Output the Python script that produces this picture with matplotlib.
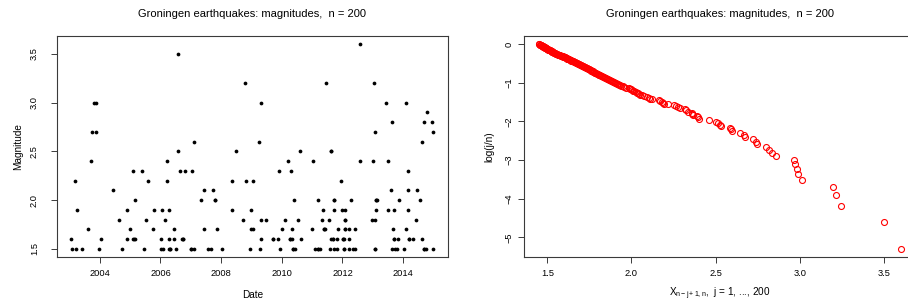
import matplotlib
matplotlib.use('Agg')
import matplotlib.pyplot as plt
import numpy as np

plt.rcParams['font.family'] = ['Liberation Sans', 'DejaVu Sans']
plt.rcParams['mathtext.fontset'] = 'custom'
plt.rcParams['mathtext.rm'] = 'Liberation Sans'
plt.rcParams['mathtext.it'] = 'Liberation Sans'

# event dates (decimal years) and magnitudes
dates = [2003.06, 2003.08, 2003.17, 2003.23, 2003.26, 2003.42, 2003.60, 2003.72, 2003.73, 2003.81,
         2003.86, 2003.88, 2003.99, 2004.03, 2004.44, 2004.64, 2004.73, 2004.89, 2004.89, 2005.01,
         2005.10, 2005.11, 2005.15, 2005.17, 2005.40, 2005.46, 2005.54, 2005.58, 2005.75, 2005.80,
         2006.03, 2006.04, 2006.03, 2006.10, 2006.16, 2006.21, 2006.21, 2006.27, 2006.27, 2006.27,
         2006.30, 2006.46, 2006.45, 2006.52, 2006.59, 2006.58, 2006.65, 2006.71, 2006.75, 2006.80,
         2007.00, 2007.05, 2007.10, 2007.12, 2007.34, 2007.42, 2007.42, 2007.58, 2007.68, 2007.74,
         2007.80, 2007.86, 2008.04, 2008.35, 2008.36, 2008.50, 2008.72, 2008.80, 2008.83, 2008.94,
         2008.97, 2009.00, 2009.05, 2009.06,
         2009.28, 2009.26, 2009.32, 2009.32, 2009.32, 2009.48, 2009.71, 2009.86, 2009.90, 2009.94,
         2010.00, 2010.11, 2010.22, 2010.28, 2010.33, 2010.31, 2010.33, 2010.38, 2010.44, 2010.41,
         2010.53, 2010.59, 2010.63, 2010.99, 2011.02, 2011.08, 2011.19, 2011.21, 2011.25,
         2011.32, 2011.36, 2011.38, 2011.44, 2011.45, 2011.55, 2011.60, 2011.62, 2011.68, 2011.63,
         2011.71, 2011.73, 2011.73, 2011.81, 2011.83, 2011.87, 2011.96, 2011.98, 2012.01, 2012.04,
         2012.05, 2012.07, 2012.08, 2012.09, 2012.20, 2012.21, 2012.23, 2012.28, 2012.34, 2012.41,
         2012.43, 2012.58, 2012.58, 2012.99, 2013.00, 2013.05, 2013.06, 2013.06, 2013.07, 2013.09,
         2013.10, 2013.15,
         2013.44, 2013.51, 2013.51, 2013.59, 2013.63, 2013.63, 2013.68, 2013.69, 2013.71, 2013.72,
         2013.80, 2013.84, 2013.87, 2014.03, 2014.08, 2014.09, 2014.16, 2014.16, 2014.17, 2014.18,
         2014.33, 2014.41, 2014.46, 2014.56, 2014.62, 2014.63, 2014.68, 2014.70, 2014.75, 2014.80,
         2014.96, 2014.97, 2014.99,
         # events hidden under others
         2006.30, 2013.06, 2007.00, 2010.38, 2011.19, 2012.04, 2014.68,
         2005.12, 2006.74, 2010.28, 2011.68, 2012.01, 2013.69, 2014.18, 2009.71,
         2011.38, 2012.08, 2012.07, 2013.09, 2011.71, 2007.80, 2011.63]

mags = [1.6, 1.5, 2.2, 1.5, 1.9, 1.5, 1.7, 2.4, 2.7, 3.0, 3.0, 2.7, 1.5, 1.6, 2.1, 1.8, 1.5,
        1.9, 1.6, 1.7, 2.3, 1.6, 1.6, 2.0, 2.3, 1.5, 1.8, 2.2, 1.7, 1.9, 1.6, 1.9, 1.5, 1.5, 1.8,
        2.4, 2.2, 1.9, 1.6, 1.5, 1.5, 1.7, 1.6, 1.5, 3.5, 2.5, 2.3, 1.6, 1.6, 2.3,
        1.5, 2.3, 1.5, 2.6, 2.0, 2.1, 1.7, 1.5, 1.5, 2.1, 2.0, 1.7, 1.5, 2.2, 1.9, 2.5, 1.8, 3.2,
        2.2, 1.5, 1.7, 1.9, 1.7, 2.2,
        1.5, 2.6, 1.6, 1.8, 3.0, 1.8, 1.6, 1.6, 2.3, 1.5, 1.7, 1.8, 2.4, 1.6, 1.6, 2.3, 1.7, 1.5,
        1.5, 2.0, 1.8, 2.5, 1.6, 1.7, 2.4, 1.5, 1.5, 2.0, 1.5,
        1.8, 1.9, 1.7, 1.7, 3.2, 1.8, 1.5, 1.6, 1.6, 2.5, 2.0, 1.5, 1.9, 1.5, 1.6, 1.7, 2.2, 1.9,
        1.6, 1.5, 1.6, 1.8, 1.7, 1.9, 1.5, 1.6, 1.7, 2.0, 1.5, 1.5, 1.7, 3.6, 2.4, 1.8, 2.4, 3.2,
        2.7, 1.5, 1.8, 2.0, 1.9, 2.0,
        3.0, 2.4, 1.9, 2.1, 2.8, 1.5, 1.7, 1.6, 1.9, 1.5, 1.5, 1.6, 2.0, 1.5, 3.0, 1.7, 2.3, 1.9,
        2.1, 1.6, 1.6, 1.8, 2.1, 2.0, 2.6, 1.6, 1.5, 2.8, 1.5, 2.9, 2.8, 2.7, 1.5,
        1.5, 1.5, 1.5, 1.5, 1.5, 1.5, 1.5,
        1.6, 1.6, 1.6, 1.6, 1.6, 1.6, 1.6, 1.6,
        1.7, 1.7, 1.8, 2.0, 2.0, 2.0, 2.5]

# ordered (tie-broken) magnitudes X_{1,n} <= ... <= X_{n,n}
ordered = [1.450, 1.452, 1.455, 1.457, 1.460, 1.462, 1.465, 1.467, 1.469, 1.471,
           1.473, 1.475, 1.477, 1.479, 1.481, 1.483, 1.485, 1.487, 1.489, 1.491,
           1.493, 1.495, 1.497, 1.499, 1.501, 1.503, 1.506, 1.509, 1.512, 1.515,
           1.518, 1.520, 1.522, 1.524, 1.526, 1.528, 1.530, 1.532, 1.535, 1.538,
           1.541, 1.544, 1.547, 1.550, 1.553, 1.556, 1.560, 1.564, 1.568, 1.572,
           1.576, 1.580, 1.584, 1.588, 1.592, 1.596, 1.600, 1.604, 1.608, 1.611,
           1.614, 1.617, 1.620, 1.623, 1.626, 1.629, 1.632, 1.635, 1.638, 1.642,
           1.646, 1.650, 1.654, 1.658, 1.662, 1.666, 1.670, 1.674, 1.678, 1.682,
           1.686, 1.690, 1.694, 1.698, 1.702, 1.706, 1.710, 1.714, 1.718, 1.722,
           1.726, 1.730, 1.734, 1.738, 1.742, 1.746, 1.750, 1.754, 1.758, 1.762,
           1.766, 1.770, 1.774, 1.778, 1.782, 1.786, 1.790, 1.795, 1.800, 1.805,
           1.810, 1.815, 1.820, 1.826, 1.832, 1.838, 1.844, 1.850, 1.856, 1.862,
           1.868, 1.874, 1.880, 1.886, 1.892, 1.898, 1.904, 1.910, 1.916, 1.922,
           1.928, 1.934, 1.940, 1.948, 1.956, 1.965,
           1.985, 1.990, 1.995, 2.003, 2.010, 2.015, 2.025, 2.033, 2.040, 2.045,
           2.052, 2.060, 2.072, 2.090, 2.103, 2.110, 2.121, 2.165, 2.170, 2.179,
           2.185, 2.192, 2.218, 2.254, 2.265, 2.277, 2.287, 2.317, 2.327, 2.337,
           2.357, 2.362, 2.366, 2.390, 2.398, 2.402, 2.460, 2.505, 2.515, 2.525,
           2.535, 2.584, 2.594, 2.600, 2.645, 2.669, 2.677, 2.721, 2.742, 2.748,
           2.798, 2.818, 2.833, 2.861, 2.964, 2.972, 2.982, 2.992, 3.011, 3.197,
           3.215, 3.243, 3.502, 3.603]

n = len(mags)
title = 'Groningen earthquakes: magnitudes,  n = %d' % n

fig = plt.figure(figsize=(9.08, 3.03), dpi=100)
W, H = 908.0, 303.0
ax1 = fig.add_axes([57 / W, 1 - 257 / H, 391 / W, 221 / H])
ax2 = fig.add_axes([524.4 / W, 1 - 257 / H, 391.3 / W, 221 / H])

frame = '#3a3a3a'

# left: magnitudes against time
ax1.plot(dates, mags, 'o', color='black', ms=2.7, mew=0)
ax1.set_xlim(2002.59, 2015.48)
ax1.set_ylim(1.416, 3.684)
ax1.set_xticks([2004, 2006, 2008, 2010, 2012, 2014])
ax1.set_yticks([1.5, 2.0, 2.5, 3.0, 3.5])
ax1.set_yticklabels(['1.5', '2.0', '2.5', '3.0', '3.5'])
ax1.set_xlabel('Date', fontsize=7.2, labelpad=8.5)
ax1.set_ylabel('Magnitude', fontsize=7.2, labelpad=5)

# right: exponential quantile plot
j = n - np.arange(len(ordered))
ax2.plot(ordered, np.log(j / n), 'o', mfc='none', mec='red', ms=4.3, mew=0.8)
ax2.set_xlim(1.364, 3.689)
ax2.set_ylim(-5.51, 0.212)
ax2.set_xticks([1.5, 2.0, 2.5, 3.0, 3.5])
ax2.set_yticks([0, -1, -2, -3, -4, -5])
ax2.set_xlabel(r'$\mathrm{X}_{\mathrm{n-j+1,n}}$,  j = 1, ..., %d' % n, fontsize=7.2, labelpad=5)
ax2.set_ylabel('log(j/n)', fontsize=7.2, labelpad=7)

for ax in (ax1, ax2):
    ax.set_title(title, fontsize=8, pad=14)
    for s in ax.spines.values():
        s.set_color(frame)
        s.set_linewidth(0.8)
    ax.tick_params(length=4, width=0.7, color=frame, labelsize=6.7, pad=5)
    ax.tick_params(axis='y', labelrotation=90)
    for lab in ax.get_yticklabels():
        lab.set_verticalalignment('center')

ax1.tick_params(axis='y', pad=9)
ax2.tick_params(axis='y', pad=4)

fig.savefig('out.png', dpi=100)
